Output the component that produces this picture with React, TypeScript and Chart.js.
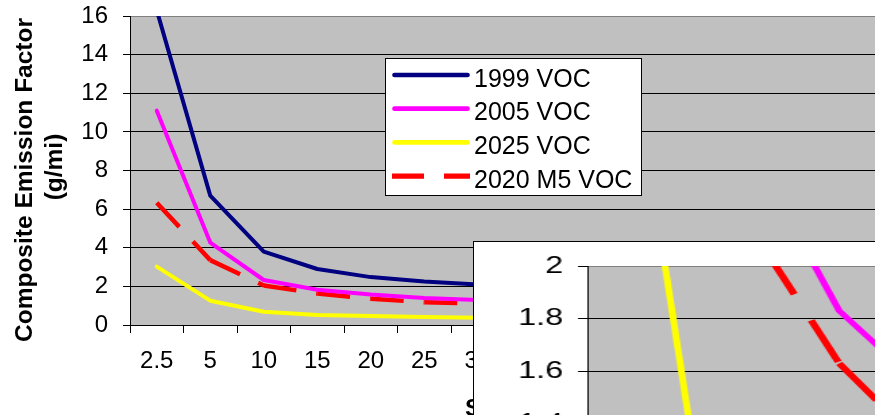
import React, { useEffect, useRef } from 'react';
import { Chart, registerables } from 'chart.js';

Chart.register(...registerables);

// Speed bins (mph)
const speeds = ['2.5', '5', '10', '15', '20', '25', '30', '35', '40', '45', '50', '55', '60', '65'];

// Composite VOC emission factors, g/mi
const voc1999 = [16.3, 6.7, 3.8, 2.9, 2.48, 2.25, 2.1, 2.0, 1.95, 1.92, 1.92, 1.95, 2.0, 2.1];
const voc2005 = [11.1, 4.27, 2.33, 1.83, 1.58, 1.4, 1.3, 1.22, 1.18, 1.16, 1.16, 1.18, 1.22, 1.28];
const voc2025 = [3.02, 1.26, 0.69, 0.52, 0.47, 0.41, 0.38, 0.36, 0.35, 0.34, 0.34, 0.35, 0.36, 0.38];
const voc2020M5 = [6.33, 3.36, 2.05, 1.63, 1.36, 1.18, 1.12, 1.06, 1.02, 1.0, 1.0, 1.02, 1.05, 1.1];

const seriesLabels = ['1999 VOC', '2005 VOC', '2025 VOC', '2020 M5 VOC'];
const yTitleLines = ['Composite Emission Factor', '(g/mi)'];
const xTitle = 'Speed (mph)';

// y axis ranges: full view and the low-speed close-up
const mainY = { min: 0, max: 16, step: 2 };
const zoomY = { min: 0, max: 2, step: 0.2 };

const FONT = "'Liberation Sans', Arial, Helvetica, sans-serif";
const PLOT_BG = '#C0C0C0';
const NAVY = '#000080';
const MAGENTA = '#FF00FF';
const YELLOW = '#FFFF00';
const RED = '#FF0000';

function buildDatasets(width: number, dash: number[]) {
  const solid = (label: string, data: number[], color: string) => ({
    label,
    data,
    borderColor: color,
    backgroundColor: color,
    borderWidth: width,
    borderCapStyle: 'round',
    borderJoinStyle: 'round',
    pointRadius: 0,
    pointHoverRadius: 0,
    tension: 0,
    fill: false,
  });
  return [
    solid(seriesLabels[0], voc1999, NAVY),
    solid(seriesLabels[1], voc2005, MAGENTA),
    solid(seriesLabels[2], voc2025, YELLOW),
    {
      label: seriesLabels[3],
      data: voc2020M5,
      borderColor: RED,
      backgroundColor: RED,
      borderWidth: width + 0.5,
      borderDash: dash,
      borderCapStyle: 'butt',
      borderJoinStyle: 'miter',
      pointRadius: 0,
      pointHoverRadius: 0,
      tension: 0,
      fill: false,
      // restart the dash pattern at every vertex
      segment: {
        borderDashOffset: (ctx: any) => (ctx.p0DataIndex % 2 ? 0.001 : 0),
      },
    },
  ];
}

const plotBackground = {
  id: 'plotBackground',
  beforeDraw(chart: any) {
    const { ctx, chartArea: a } = chart;
    ctx.save();
    ctx.fillStyle = PLOT_BG;
    ctx.fillRect(a.left, a.top, a.right - a.left, a.bottom - a.top);
    ctx.restore();
  },
};

const axisTitles = {
  id: 'axisTitles',
  afterDraw(chart: any) {
    const { ctx } = chart;
    ctx.save();
    ctx.fillStyle = '#000';
    ctx.font = `bold 24.5px ${FONT}`;
    ctx.textBaseline = 'alphabetic';
    ctx.textAlign = 'center';
    const placements = [
      { x: 32, y: 180 },
      { x: 61.5, y: 167 },
    ];
    yTitleLines.forEach((text, i) => {
      ctx.save();
      ctx.translate(placements[i].x, placements[i].y);
      ctx.rotate(-Math.PI / 2);
      ctx.fillText(text, 0, 0);
      ctx.restore();
    });
    ctx.textAlign = 'left';
    ctx.fillText(xTitle, 465, 416);
    ctx.restore();
  },
};

const legendBox = {
  id: 'legendBox',
  afterDraw(chart: any) {
    const { ctx, chartArea: a } = chart;
    const left = a.left + 255.5;
    const top = a.top + 42.5;
    ctx.save();
    ctx.fillStyle = '#fff';
    ctx.fillRect(left, top, 256, 137);
    ctx.strokeStyle = '#000';
    ctx.lineWidth = 1;
    ctx.strokeRect(left, top, 256, 137);
    chart.data.datasets.forEach((ds: any, i: number) => {
      const y = top + 16.5 + i * 33.7;
      const dashed = Array.isArray(ds.borderDash) && ds.borderDash.length > 0;
      ctx.strokeStyle = ds.borderColor;
      ctx.lineWidth = dashed ? 5.2 : 4.7;
      ctx.lineCap = dashed ? 'butt' : 'round';
      ctx.setLineDash(dashed ? [32, 20] : []);
      ctx.beginPath();
      if (dashed) {
        ctx.moveTo(left + 6.5, y);
        ctx.lineTo(left + 84.5, y);
      } else {
        ctx.moveTo(left + 9, y);
        ctx.lineTo(left + 82, y);
      }
      ctx.stroke();
      ctx.setLineDash([]);
      ctx.fillStyle = '#000';
      ctx.font = `25px ${FONT}`;
      ctx.textAlign = 'left';
      ctx.textBaseline = 'alphabetic';
      ctx.fillText(ds.label, left + 88.5, y + 11.7);
    });
    ctx.restore();
  },
};

function numberLabel(v: any) {
  return String(Number(Number(v).toFixed(1)));
}

function buildOptions(range: { min: number; max: number; step: number }, opts: {
  axisWidth: number;
  top: number;
  right: number;
  yPad: number;
}) {
  return {
    animation: false,
    responsive: false,
    maintainAspectRatio: false,
    events: [],
    layout: { padding: { top: opts.top, right: opts.right, left: 0, bottom: 0 } },
    plugins: {
      legend: { display: false },
      tooltip: { enabled: false },
      title: { display: false },
    },
    scales: {
      x: {
        type: 'category',
        offset: true,
        grid: {
          display: true,
          drawOnChartArea: false,
          drawTicks: true,
          tickLength: 8,
          offset: true,
          color: '#000',
          tickColor: '#000',
        },
        border: { display: true, color: '#000', width: 1 },
        ticks: {
          font: { family: FONT, size: 24 },
          color: '#000',
          padding: 14,
          maxRotation: 0,
          minRotation: 0,
          autoSkip: false,
        },
        afterFit: (s: any) => {
          s.height = 90;
          s.paddingLeft = 0;
          s.paddingRight = 0;
        },
      },
      y: {
        min: range.min,
        max: range.max,
        grid: {
          color: (c: any) =>
            c.tick && Math.abs(c.tick.value - range.max) < 1e-9 ? '#808080' : '#000',
          tickColor: '#000',
          tickLength: 7,
          drawTicks: true,
          lineWidth: 1,
        },
        border: { display: true, color: '#000', width: 1 },
        ticks: {
          stepSize: range.step,
          font: { family: FONT, size: 24 },
          color: '#000',
          padding: opts.yPad,
          callback: numberLabel,
        },
        afterFit: (s: any) => {
          s.width = opts.axisWidth;
          s.paddingTop = 0;
          s.paddingBottom = 0;
        },
      },
    },
  };
}

export default function App() {
  const mainRef = useRef<HTMLCanvasElement>(null);
  const zoomRef = useRef<HTMLCanvasElement>(null);

  useEffect(() => {
    const main = new Chart(mainRef.current as HTMLCanvasElement, {
      type: 'line',
      data: { labels: speeds, datasets: buildDatasets(4, [33, 20]) as any },
      options: buildOptions(mainY, { axisWidth: 130, top: 16, right: 21, yPad: 15 }) as any,
      plugins: [plotBackground, axisTitles, legendBox],
    });
    const zoom = new Chart(zoomRef.current as HTMLCanvasElement, {
      type: 'line',
      data: { labels: speeds, datasets: buildDatasets(5, [46, 29]) as any },
      options: buildOptions(zoomY, { axisWidth: 84, top: 24, right: 20, yPad: 11 }) as any,
      plugins: [plotBackground],
    });
    return () => {
      main.destroy();
      zoom.destroy();
    };
  }, []);

  return (
    <div
      style={{
        position: 'fixed',
        left: 0,
        top: 0,
        width: 875,
        height: 415,
        overflow: 'hidden',
        background: '#fff',
      }}
    >
      <canvas
        ref={mainRef}
        width={900}
        height={415}
        style={{ position: 'absolute', left: 0, top: 0 }}
      />
      <div
        style={{
          position: 'absolute',
          left: 473,
          top: 241,
          width: 600,
          height: 400,
          border: '1px solid #000',
          background: '#fff',
          overflow: 'hidden',
        }}
      >
        <canvas
          ref={zoomRef}
          width={850}
          height={640}
          style={{
            position: 'absolute',
            left: 0,
            top: 0,
            transform: 'scaleX(1.35)',
            transformOrigin: '0 0',
          }}
        />
      </div>
    </div>
  );
}
